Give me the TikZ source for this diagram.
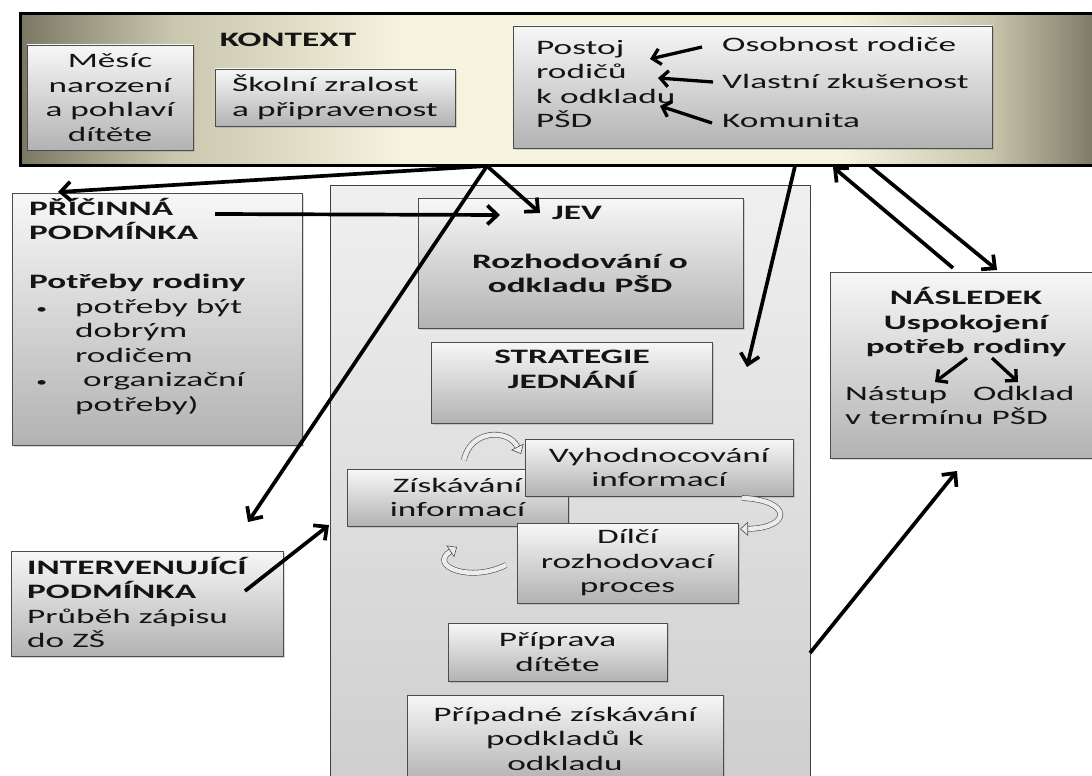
\documentclass[tikz,border=0pt]{standalone}
\usepackage{fontspec}
\setmainfont{Carlito}[FakeStretch=1.72]
\usetikzlibrary{arrows.meta,shadows}
\definecolor{ctxdark}{HTML}{7A7764}
\definecolor{ctxmid}{HTML}{C9C6AE}
\definecolor{ctxlight}{HTML}{F6F3DF}
\definecolor{txt}{HTML}{141414}
\pgfdeclarehorizontalshading{ctxshade}{100bp}{color(0bp)=(ctxdark); color(25bp)=(ctxdark); color(32bp)=(ctxmid); color(43bp)=(ctxlight); color(63bp)=(ctxlight); color(70bp)=(ctxmid); color(75bp)=(ctxdark); color(100bp)=(ctxdark)}
\newcommand{\bul}{\makebox[46pt][l]{\hspace{7pt}{\fontsize{13}{13}\selectfont•}}}
\begin{document}
\begin{tikzpicture}[x=1pt,y=-1pt,
  font=\fontsize{20.5}{24.5}\selectfont, text=txt,
  bold/.style={font=\fontsize{20.5}{24.5}\selectfont\bfseries},
  box/.style={draw=black!70, line width=0.8pt, top color=gray!6, bottom color=gray!60,
    drop shadow={opacity=0.3,shadow xshift=2pt,shadow yshift=-2pt}, inner sep=0pt, align=center},
  bigbox/.style={draw=black!75, line width=0.8pt, top color=gray!12, bottom color=gray!38, inner sep=0pt},
  ctxbox/.style={draw=black, line width=3pt, shading=ctxshade, inner sep=0pt},
  arr/.style={line width=3.7pt, -{Straight Barb[length=10pt,width=19pt]}},
  sarr/.style={line width=3.3pt, -{Straight Barb[length=8pt,width=16pt]}},
  cyc/.style={draw=gray!60!black, line width=0.6pt, double=gray!15, double distance=4.5pt,
    -{Triangle[length=8pt,width=14pt,fill=gray!15]}}
]
\useasboundingbox (0,0) rectangle (1092,776);
\fill[white] (0,0) rectangle (1092,776);
\clip (0,0) rectangle (1092,776);

% context
\node[ctxbox, minimum width=1078pt, minimum height=151pt] (ctx) at (559,89.5) {};
\node[bold] (kontext) at (288,40) {KONTEXT};
\node[box, minimum width=166pt, minimum height=105pt] (mesic) at (110,97.5) {Měsíc\\narození\\a pohlaví\\dítěte};
\node[box, minimum width=240pt, minimum height=57pt, align=left] (skol) at (335,97.5) {Školní zralost\\a připravenost};
\node[box, minimum width=479pt, minimum height=122pt] (postojbox) at (752.5,87) {};
\node[anchor=west, align=left, inner sep=0pt] (postoj) at (536,84) {Postoj\\rodičů\\k odkladu\\PŠD};
\node[anchor=west, inner sep=0pt] (osob) at (722,44) {Osobnost rodiče};
\node[anchor=west, inner sep=0pt] (vlast) at (722,81) {Vlastní zkušenost};
\node[anchor=west, inner sep=0pt] (komun) at (722,121) {Komunita};
\coordinate (o1) at (702,47);  \coordinate (o2) at (650,59);
\coordinate (v1) at (713,82);  \coordinate (v2) at (658,78);
\coordinate (k1) at (712,123); \coordinate (k2) at (660,106);
\draw[sarr] (o1) -- (o2);
\draw[sarr] (v1) -- (v2);
\draw[sarr] (k1) -- (k2);

% main central box
\node[bigbox, minimum width=480pt, minimum height=600pt] (main) at (570,485) {};
\node[box, minimum width=325pt, minimum height=130pt] (jev) at (580.5,263) {};
\node[bold] (jevt) at (577,213) {JEV};
\node[bold, align=center] (rozh) at (580,273.5) {Rozhodování o\\odkladu PŠD};
\node[box, minimum width=281pt, minimum height=81pt] (strat) at (571.5,382.5) {};
\node[bold, align=center] (stratt) at (572,369.5) {STRATEGIE\\JEDNÁNÍ};
\node[box, minimum width=221pt, minimum height=57pt] (zisk) at (457.5,497.5) {Získávání\\informací};
\node[box, minimum width=268pt, minimum height=57pt] (vyh) at (659,467.5) {Vyhodnocování\\informací};
\node[box, minimum width=221pt, minimum height=80pt] (dilci) at (627.5,563) {Dílčí\\rozhodovací\\proces};
\node[box, minimum width=219pt, minimum height=58pt] (prip) at (557.5,652) {Příprava\\dítěte};
\node[box, minimum width=316pt, minimum height=87pt] (pripad) at (565,738.5) {Případné získávání\\podkladů k\\odkladu};

% cycle arrows
\draw[cyc] (464,460) .. controls (470,430) and (508,428) .. (521,454);
\draw[cyc] (742,498) .. controls (792,500) and (792,528) .. (740,529);
\draw[cyc] (506,565) .. controls (470,583) and (428,566) .. (457,547);

% left boxes
\node[box, minimum width=290pt, minimum height=252pt] (pric) at (157,319) {};
\node[anchor=west, align=left, inner sep=0pt] (prict) at (29,306.5)
  {\textbf{PŘÍČINNÁ}\\\textbf{PODMÍNKA}\\[24.5pt]\textbf{Potřeby rodiny}\\
   \bul potřeby být\\\hspace*{46pt}dobrým\\\hspace*{46pt}rodičem\\
   \bul\ organizační\\\hspace*{46pt}potřeby)};
\node[box, minimum width=272pt, minimum height=105pt] (interv) at (147,603.5) {};
\node[anchor=west, align=left, inner sep=0pt] (intervt) at (27,602.5)
  {\textbf{INTERVENUJÍCÍ}\\\textbf{PODMÍNKA}\\Průběh zápisu\\do ZŠ};

% right box
\node[box, minimum width=270pt, minimum height=186pt] (nasl) at (965,365) {};
\node[bold, align=center] (naslt) at (966,322) {NÁSLEDEK\\Uspokojení\\potřeb rodiny};
\node[anchor=west, align=left, inner sep=0pt] (nast) at (845,405.5) {Nástup\hspace{26pt}Odklad\\v termínu PŠD};
\coordinate (n1a) at (967,358); \coordinate (n1b) at (935,382);
\coordinate (n2a) at (992,358); \coordinate (n2b) at (1018,382);
\draw[sarr] (n1a) -- (n1b);
\draw[sarr] (n2a) -- (n2b);

% connectors
\coordinate (j1) at (487,166);
\coordinate (j2) at (795,166);
\coordinate (pricin) at (58,192);
\coordinate (jevin) at (540,213);
\coordinate (intvin) at (248,522);
\coordinate (stratin) at (747,367);
\coordinate (pricout) at (215,214);
\coordinate (jevleft) at (500,215);
\coordinate (ctxin) at (833,167);
\coordinate (ctxout) at (870,166);
\coordinate (naslout) at (953,268);
\coordinate (naslin) at (997,270);
\coordinate (intvout) at (245,591);
\coordinate (mainin) at (329,525);
\coordinate (mainout) at (810,653);
\coordinate (naslbot) at (957,471);
\draw[arr] (j1) -- (pricin);
\draw[arr] (j1) -- (jevin);
\draw[arr] (j1) -- (intvin);
\draw[arr] (pricout) -- (jevleft);
\draw[arr] (j2) -- (stratin);
\draw[arr] (naslout) -- (ctxin);
\draw[arr] (ctxout) -- (naslin);
\draw[arr] (intvout) -- (mainin);
\draw[arr] (mainout) -- (naslbot);
\end{tikzpicture}
\end{document}
